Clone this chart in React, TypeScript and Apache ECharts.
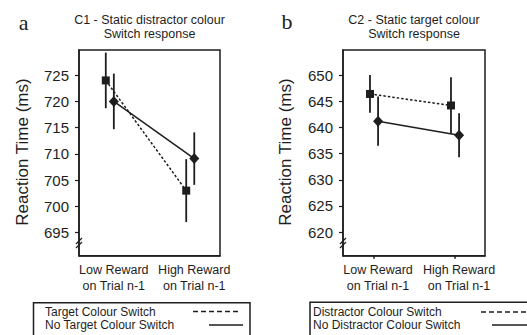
import React, { useEffect, useRef } from "react";
import * as echarts from "echarts";

const categories = ["Low Reward\non Trial n-1", "High Reward\non Trial n-1"];
const catPos = [1, 2];

// Panel a: C1 - Static distractor colour
const c1Switch = [724, 703];
const c1SwitchErr = [5.3, 6.0];
const c1NoSwitch = [720, 709.1];
const c1NoSwitchErr = [5.3, 5.0];
const c1Ticks = [695, 700, 705, 710, 715, 720, 725];

// Panel b: C2 - Static target colour
const c2Switch = [646.4, 644.2];
const c2SwitchErr = [3.6, 5.4];
const c2NoSwitch = [641.2, 638.5];
const c2NoSwitchErr = [4.7, 4.2];
const c2Ticks = [620, 625, 630, 635, 640, 645, 650];

const INK = "#1e1e1e";
const FONT = "Liberation Sans, Arial, sans-serif";

export default function App() {
  const ref = useRef<HTMLDivElement>(null);
  useEffect(() => {
    if (!ref.current) return;
    const chart = echarts.init(ref.current, undefined, { renderer: "svg" });
    const off = [-0.05, 0.05];

    const pts = (vals: number[], o: number) => vals.map((v, i) => [catPos[i] + o, v]);
    const errs = (vals: number[], e: number[], o: number) =>
      vals.map((v, i) => [catPos[i] + o, v, e[i]]);

    const errSeries = (idx: number, data: number[][]) => ({
      type: "custom",
      xAxisIndex: idx,
      yAxisIndex: idx,
      z: 1,
      data,
      encode: { x: 0, y: 1 },
      renderItem: (params: any, api: any) => {
        const x = api.value(0);
        const y = api.value(1);
        const e = api.value(2);
        const p1 = api.coord([x, y - e]);
        const p2 = api.coord([x, y + e]);
        return {
          type: "line",
          shape: { x1: p1[0], y1: p1[1], x2: p2[0], y2: p2[1] },
          style: { stroke: INK, lineWidth: 1.8 },
        };
      },
    });

    const lineSeries = (idx: number, data: number[][], dotted: boolean) => ({
      type: "line",
      xAxisIndex: idx,
      yAxisIndex: idx,
      z: 3,
      data,
      symbol: dotted ? "rect" : "diamond",
      symbolSize: dotted ? 8 : [10, 11],
      itemStyle: { color: INK },
      lineStyle: { color: INK, width: 1.5, type: dotted ? [2.5, 2] : "solid" },
    });

    const xAxis = (idx: number, showTicks: boolean) => ({
      type: "value",
      gridIndex: idx,
      min: 0.617,
      max: 2.37,
      splitLine: { show: false },
      axisLine: { show: true, lineStyle: { color: INK, width: 1.5 } },
      axisTick: {
        show: showTicks,
        customValues: catPos,
        length: 3,
        lineStyle: { color: INK, width: 1.5 },
      },
      axisLabel: {
        customValues: catPos,
        formatter: (v: number) => categories[catPos.indexOf(Math.round(v))] ?? "",
        fontSize: 12.5,
        fontFamily: FONT,
        color: INK,
        lineHeight: 16,
        margin: 6,
        padding: [0, 0, 0, 8],
      },
    });

    const yAxis = (idx: number, min: number, max: number, ticks: number[]) => ({
      type: "value",
      gridIndex: idx,
      min,
      max,
      splitLine: { show: false },
      axisLine: { show: true, lineStyle: { color: INK, width: 1.5 } },
      axisTick: { show: true, customValues: ticks, length: 4, lineStyle: { color: INK, width: 1.2 } },
      axisLabel: {
        customValues: ticks,
        fontSize: 15,
        fontFamily: FONT,
        color: INK,
        margin: 10,
      },
    });

    const txt = (x: number, y: number, text: string, fontSize: number, extra: any = {}) => ({
      type: "text",
      x,
      y,
      z: 10,
      style: {
        text,
        fontSize,
        fontFamily: FONT,
        fill: INK,
        align: "center",
        verticalAlign: "middle",
        ...extra,
      },
    });

    const breakMark = (x: number, y: number) => [
      { type: "line", z: 10, shape: { x1: x - 3, y1: y + 1, x2: x + 3, y2: y - 5 }, style: { stroke: INK, lineWidth: 1.3 } },
      { type: "line", z: 10, shape: { x1: x - 3, y1: y + 5, x2: x + 3, y2: y - 1 }, style: { stroke: INK, lineWidth: 1.3 } },
    ];

    chart.setOption({
      animation: false,
      grid: [
        { left: 79, top: 50, width: 141, height: 205.7, show: true, borderColor: INK, borderWidth: 1.5, backgroundColor: "transparent" },
        { left: 343, top: 50, width: 142, height: 205.7, show: true, borderColor: INK, borderWidth: 1.5, backgroundColor: "transparent" },
      ],
      xAxis: [xAxis(0, false), xAxis(1, true)],
      yAxis: [yAxis(0, 690.6, 729.8, c1Ticks), yAxis(1, 615.5, 654.8, c2Ticks)],
      series: [
        errSeries(0, errs(c1Switch, c1SwitchErr, off[0])),
        errSeries(0, errs(c1NoSwitch, c1NoSwitchErr, off[1])),
        lineSeries(0, pts(c1Switch, off[0]), true),
        lineSeries(0, pts(c1NoSwitch, off[1]), false),
        errSeries(1, errs(c2Switch, c2SwitchErr, off[0])),
        errSeries(1, errs(c2NoSwitch, c2NoSwitchErr, off[1])),
        lineSeries(1, pts(c2Switch, off[0]), true),
        lineSeries(1, pts(c2NoSwitch, off[1]), false),
      ],
      graphic: [
        txt(23.5, 22, "a", 22, { fontFamily: "Liberation Serif, Times New Roman, serif" }),
        txt(287, 21, "b", 22, { fontFamily: "Liberation Serif, Times New Roman, serif" }),
        txt(149.5, 20, "C1 - Static distractor colour", 12.5),
        txt(149.5, 34, "Switch response", 12.5),
        txt(414, 20, "C2 - Static target colour", 12.5),
        txt(414, 34, "Switch response", 12.5),
        { ...txt(22, 152, "Reaction Time (ms)", 17), rotation: Math.PI / 2 },
        { ...txt(285, 152, "Reaction Time (ms)", 17), rotation: Math.PI / 2 },
        ...breakMark(79, 243),
        ...breakMark(343, 243),
        // legend a
        { type: "rect", z: 9, shape: { x: 33.5, y: 302.7, width: 216.5, height: 50 }, style: { fill: "#fff", stroke: INK, lineWidth: 1.5 } },
        txt(45, 311.5, "Target Colour Switch", 12, { align: "left", lineHeight: 12 }),
        txt(45, 324.5, "No Target Colour Switch", 12, { align: "left", lineHeight: 12 }),
        { type: "line", z: 10, shape: { x1: 193, y1: 311.5, x2: 240, y2: 311.5 }, style: { stroke: INK, lineWidth: 1.3, lineDash: [5, 3] } },
        { type: "line", z: 10, shape: { x1: 209, y1: 325, x2: 243, y2: 325 }, style: { stroke: INK, lineWidth: 1.3 } },
        // legend b
        { type: "rect", z: 9, shape: { x: 310, y: 302.3, width: 240, height: 50 }, style: { fill: "#fff", stroke: INK, lineWidth: 1.5 } },
        txt(313, 312, "Distractor Colour Switch", 12, { align: "left", lineHeight: 12 }),
        txt(313, 325, "No Distractor Colour Switch", 12, { align: "left", lineHeight: 12 }),
        { type: "line", z: 10, shape: { x1: 481, y1: 312, x2: 527, y2: 312 }, style: { stroke: INK, lineWidth: 1.3, lineDash: [5, 3] } },
        { type: "line", z: 10, shape: { x1: 492, y1: 325, x2: 527, y2: 325 }, style: { stroke: INK, lineWidth: 1.3 } },
      ],
    });
    return () => chart.dispose();
  }, []);
  return (
    <div
      ref={ref}
      style={{ position: "fixed", left: 0, top: 0, width: 527, height: 335, background: "#fff" }}
    />
  );
}
